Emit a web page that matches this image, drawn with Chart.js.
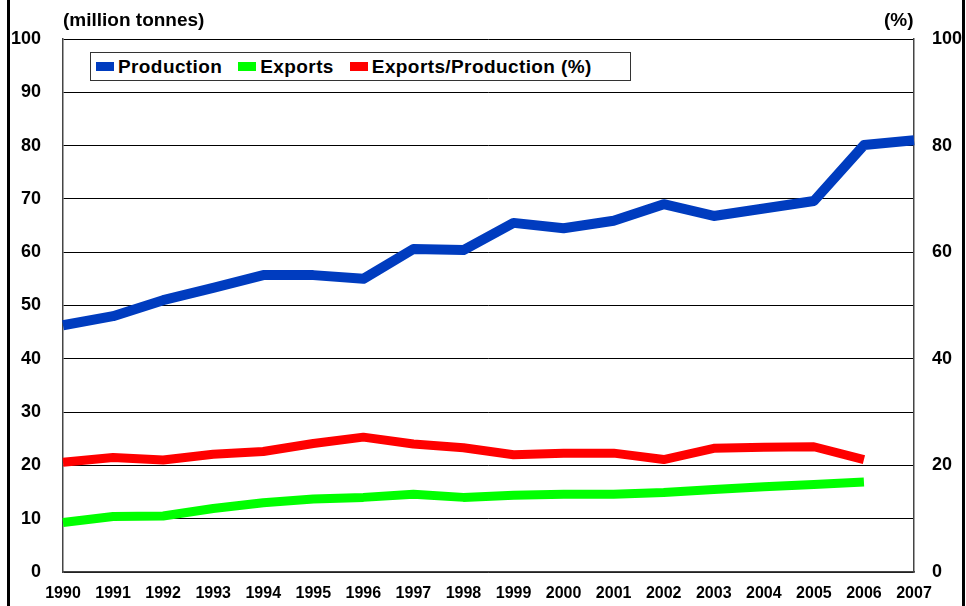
<!DOCTYPE html>
<html>
<head>
<meta charset="utf-8">
<script src="https://cdn.jsdelivr.net/npm/chart.js@4/dist/chart.umd.min.js"></script>
<style>
  body { margin: 0; background: #fff; }
  #wrap { position: relative; width: 966px; height: 606px; overflow: hidden; font-family: "Liberation Sans", Arial, sans-serif; }
  .edge { position: absolute; top: 0; width: 3px; height: 606px; background: #000; }
  .unit { position: absolute; top: 9px; font-weight: bold; font-size: 19px; color: #000; }
  #legend { position: absolute; left: 90px; top: 52px; width: 534px; height: 27px; border: 1.5px solid #333; background: #fff;
            display: flex; align-items: center; padding-left: 5px; box-sizing: content-box; }
  .item { display: flex; align-items: center; margin-right: 16px; font-weight: bold; font-size: 19px; letter-spacing: 0.4px; }
  .sw { width: 18px; height: 9px; margin-right: 4px; }
</style>
</head>
<body>
<div id="wrap">
  <canvas id="chart" width="966" height="606"></canvas>
  <div class="edge" style="left:7px"></div>
  <div class="edge" style="left:962px"></div>
  <div class="unit" style="left:63px">(million tonnes)</div>
  <div class="unit" style="left:884px">(%)</div>
  <div id="legend"></div>
</div>
<script>
// ================= DATA =================
const years = ["1990", "1991", "1992", "1993", "1994", "1995", "1996", "1997", "1998",
               "1999", "2000", "2001", "2002", "2003", "2004", "2005", "2006", "2007"];
const production = [46.3, 48.0, 51.0, 53.3, 55.7, 55.7, 55.0, 60.6, 60.4,
                    65.5, 64.5, 65.9, 69.0, 66.8, 68.2, 69.6, 80.1, 81.0];
const exportsData = [9.3, 10.4, 10.5, 11.9, 13.0, 13.7, 14.0, 14.6, 14.0,
                     14.4, 14.6, 14.6, 14.9, 15.5, 16.0, 16.4, 16.9, null];
const exportShare = [20.6, 21.5, 21.0, 22.1, 22.6, 24.1, 25.3, 24.0, 23.3,
                     22.0, 22.3, 22.3, 21.1, 23.2, 23.4, 23.5, 21.1, null];

const font = "'Liberation Sans', Arial, sans-serif";

const datasets = [
    { label: "Production", data: production, borderColor: "#003cbf", borderWidth: 10, yAxisID: "y" },
    { label: "Exports", data: exportsData, borderColor: "#00ff00", borderWidth: 9, yAxisID: "y" },
    { label: "Exports/Production (%)", data: exportShare, borderColor: "#ff0000", borderWidth: 9, yAxisID: "y1" }
];

// ================= LEGEND =================
const legend = document.getElementById("legend");
datasets.forEach(ds => {
    const item = document.createElement("div");
    item.className = "item";
    item.innerHTML = '<span class="sw" style="background:' + ds.borderColor + '"></span>' + ds.label;
    legend.appendChild(item);
});

// ================= CHART =================
new Chart(document.getElementById("chart"), {
    type: "line",
    data: {
        labels: years,
        datasets: datasets.map(ds => Object.assign({
            fill: false,
            pointRadius: 0,
            tension: 0,
            borderJoinStyle: "round",
            spanGaps: false
        }, ds))
    },
    options: {
        responsive: false,
        animation: false,
        layout: { padding: { top: 39, left: 0, right: 0, bottom: 0 } },
        plugins: {
            legend: { display: false },
            tooltip: { enabled: false }
        },
        scales: {
            x: {
                offset: false,
                grid: { display: false, drawTicks: false },
                border: { color: "#444", width: 1.5 },
                ticks: { color: "#000", padding: 12, maxRotation: 0, autoSkip: false,
                         font: { family: font, size: 16, weight: "bold" } },
                afterFit: s => { s.height = 34; }
            },
            y: {
                position: "left",
                min: 0,
                max: 100,
                grid: { color: "#000", lineWidth: 1, drawTicks: false },
                border: { color: "#444", width: 1.5 },
                ticks: { stepSize: 10, color: "#000", padding: 22,
                         font: { family: font, size: 18, weight: "bold" } },
                afterFit: s => { s.width = 63; }
            },
            y1: {
                position: "right",
                min: 0,
                max: 100,
                grid: { drawOnChartArea: false, drawTicks: false },
                border: { color: "#444", width: 1.5 },
                ticks: { stepSize: 20, color: "#000", padding: 18,
                         font: { family: font, size: 18, weight: "bold" } },
                afterFit: s => { s.width = 52; }
            }
        }
    }
});
</script>
</body>
</html>
